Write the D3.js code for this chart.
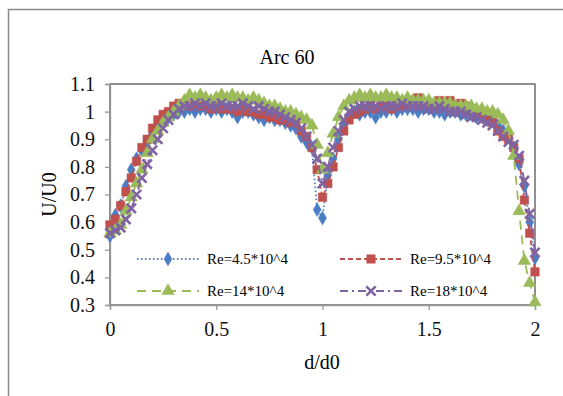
<!DOCTYPE html>
<html>
<head>
<meta charset="utf-8">
<script src="https://cdn.jsdelivr.net/npm/d3@7"></script>
<style>
  html, body { margin: 0; padding: 0; background: #fff; }
  #chart { width: 563px; height: 396px; }
  #chart svg, #chart svg text { font-family: "Liberation Serif", "Times New Roman", serif; }
</style>
</head>
<body>
<div id="chart"></div>
<script>
const TITLE = "Arc 60";
const X_LABEL = "d/d0";
const Y_LABEL = "U/U0";

const xTicks = [0, 0.5, 1, 1.5, 2];
const yTicks = [0.3, 0.4, 0.5, 0.6, 0.7, 0.8, 0.9, 1, 1.1];

// measurement positions d/d0
const dPos = [
  0, 0.025, 0.05, 0.075, 0.1, 0.125, 0.15, 0.175, 0.2, 0.225,
  0.25, 0.275, 0.3, 0.325, 0.35, 0.375, 0.4, 0.425, 0.45, 0.475,
  0.5, 0.525, 0.55, 0.575, 0.6, 0.625, 0.65, 0.675, 0.7, 0.725,
  0.75, 0.775, 0.8, 0.825, 0.85, 0.875, 0.9, 0.925, 0.95, 0.975,
  1, 1.025, 1.05, 1.075, 1.1, 1.125, 1.15, 1.175, 1.2, 1.225,
  1.25, 1.275, 1.3, 1.325, 1.35, 1.375, 1.4, 1.425, 1.45, 1.475,
  1.5, 1.525, 1.55, 1.575, 1.6, 1.625, 1.65, 1.675, 1.7, 1.725,
  1.75, 1.775, 1.8, 1.825, 1.85, 1.875, 1.9, 1.925, 1.95, 1.975, 2
];

const re45 = [
  0.55, 0.625, 0.66, 0.73, 0.79, 0.83, 0.86, 0.89, 0.92, 0.95,
  0.97, 0.98, 0.99, 1.0, 1.0, 1.01, 1.0, 1.01, 1.01, 1.0,
  1.01, 1.0, 1.01, 1.0, 0.98, 1.0, 1.0, 0.99, 0.98, 0.97,
  0.98, 0.97, 0.97, 0.96, 0.95, 0.94, 0.91, 0.89, 0.87, 0.645,
  0.615, 0.77, 0.83, 0.9, 0.95, 0.98, 1.0, 0.99, 1.0, 1.0,
  0.98, 1.0, 1.0, 1.01, 1.0, 1.01, 1.01, 1.01, 1.0, 1.01,
  1.01, 1.0, 1.0, 0.99, 1.0, 1.0, 0.99, 0.99, 0.99, 0.98,
  0.98, 0.97, 0.97, 0.95, 0.93, 0.91, 0.87, 0.81, 0.73, 0.6, 0.47
];

const re95 = [
  0.59, 0.61, 0.66, 0.71, 0.76, 0.82, 0.87, 0.9, 0.94, 0.97,
  0.99, 1.0, 1.02, 1.03, 1.03, 1.02, 1.03, 1.02, 1.02, 1.01,
  1.02, 1.01, 1.01, 1.01, 1.0, 1.01, 1.0, 1.0, 0.99, 0.99,
  0.98, 0.98, 0.97, 0.97, 0.96, 0.96, 0.93, 0.91, 0.87, 0.79,
  0.69, 0.74, 0.8, 0.87, 0.93, 0.97, 0.99, 1.0, 1.01, 1.02,
  1.01, 1.02, 1.02, 1.01, 1.02, 1.02, 1.03, 1.04, 1.05, 1.03,
  1.03, 1.02, 1.04, 1.03, 1.04, 1.02, 1.03, 1.02, 1.01, 1.0,
  0.99, 0.97, 0.96, 0.93, 0.91, 0.9, 0.87, 0.83, 0.68, 0.56, 0.42
];

const re14 = [
  0.56, 0.57, 0.59, 0.64, 0.69, 0.74, 0.79, 0.85, 0.9, 0.93,
  0.96, 0.98, 1.0, 1.02, 1.04, 1.06, 1.05, 1.06, 1.05, 1.04,
  1.05, 1.06, 1.05, 1.06, 1.05, 1.05, 1.04, 1.05, 1.04, 1.03,
  1.02, 1.02, 1.01, 1.0, 1.0, 0.99, 0.98, 0.97, 0.95, 0.88,
  0.79, 0.85, 0.92, 0.98, 1.02, 1.04, 1.05, 1.06, 1.05, 1.06,
  1.05, 1.05, 1.06, 1.05, 1.05, 1.04, 1.05, 1.04, 1.04, 1.04,
  1.04, 1.03, 1.03, 1.03, 1.03, 1.02, 1.02, 1.02, 1.02, 1.01,
  1.01, 1.0, 1.0, 0.99, 0.97, 0.93, 0.84, 0.64, 0.46, 0.38, 0.31
];

const re18 = [
  0.56, 0.57, 0.58, 0.61, 0.65, 0.7, 0.76, 0.81, 0.86, 0.9,
  0.94, 0.97, 0.99, 1.01, 1.02, 1.02, 1.03, 1.02, 1.03, 1.02,
  1.02, 1.03, 1.02, 1.02, 1.02, 1.03, 1.02, 1.01, 1.02, 1.01,
  1.0, 1.0, 0.99, 0.98, 0.97, 0.96, 0.94, 0.91, 0.88, 0.83,
  0.74, 0.8, 0.87, 0.93, 0.97, 1.0, 1.01, 1.02, 1.02, 1.02,
  1.02, 1.01, 1.02, 1.02, 1.02, 1.03, 1.02, 1.02, 1.02, 1.02,
  1.01, 1.01, 1.02, 1.01, 1.0, 1.0, 1.0, 0.99, 0.98, 0.98,
  0.97, 0.96, 0.95, 0.93, 0.91, 0.89, 0.88, 0.84, 0.75, 0.63, 0.49
];

const seriesNames = ["Re=4.5*10^4", "Re=9.5*10^4", "Re=14*10^4", "Re=18*10^4"];
const seriesValues = [re45, re95, re14, re18];

const WIDTH = 563;
const HEIGHT = 396;

const styles = [
  { color: "#4a7ec4", dash: "1.5,2.5", symbol: d3.symbolDiamond, size: 55 },
  { color: "#c0504d", dash: "5,3", symbol: d3.symbolSquare, size: 72 },
  { color: "#9bbb59", dash: "9,6", symbol: d3.symbolTriangle, size: 68 },
  { color: "#8064a2", dash: "8,4,2,4", symbol: d3.symbolX, size: 58 }
];

const margin = { left: 110, right: 28, top: 84, bottom: 91 };

const x = d3.scaleLinear().domain([0, 2]).range([margin.left, WIDTH - margin.right]);
const y = d3.scaleLinear().domain([0.3, 1.1]).range([HEIGHT - margin.bottom, margin.top]);

const svg = d3.select("#chart").append("svg")
  .attr("width", WIDTH)
  .attr("height", HEIGHT);

// outer chart frame
svg.append("rect")
  .attr("x", 8.5).attr("y", 9.5)
  .attr("width", 580).attr("height", 420)
  .attr("fill", "#fff")
  .attr("stroke", "#8a8a8a")
  .attr("stroke-width", 1.5);

svg.append("text")
  .attr("x", 287).attr("y", 64)
  .attr("text-anchor", "middle")
  .style("font-size", "20px")
  .text(TITLE);

// plot area frame
svg.append("rect")
  .attr("x", x(0)).attr("y", y(1.1))
  .attr("width", x(2) - x(0)).attr("height", y(0.3) - y(1.1))
  .attr("fill", "none")
  .attr("stroke", "#555")
  .attr("stroke-width", 1.3);

const yAxis = svg.append("g")
  .attr("transform", `translate(${x(0)},0)`)
  .call(d3.axisLeft(y).tickValues(yTicks).tickSize(5).tickPadding(10).tickFormat(d3.format("")));

const xAxis = svg.append("g")
  .attr("transform", `translate(0,${y(0.3)})`)
  .call(d3.axisBottom(x).tickValues(xTicks).tickSize(5).tickPadding(12).tickFormat(d3.format("")));

[xAxis, yAxis].forEach(ax => {
  ax.attr("font-family", null).attr("font-size", null);
  ax.select(".domain").attr("stroke", "#999").attr("stroke-width", 1.3);
  ax.selectAll(".tick line").attr("stroke", "#999").attr("stroke-width", 1.3);
  ax.selectAll(".tick text")
    .attr("fill", "#111")
    .style("font-size", "20px");
});

svg.append("text")
  .attr("x", 322).attr("y", 369)
  .attr("text-anchor", "middle")
  .style("font-size", "20px")
  .text(X_LABEL);

svg.append("text")
  .attr("transform", `translate(56,${(y(0.3) + y(1.1)) / 2}) rotate(-90)`)
  .attr("text-anchor", "middle")
  .style("font-size", "20px")
  .text(Y_LABEL);

const line = d3.line()
  .x((d, i) => x(dPos[i]))
  .y(d => y(d));

const plot = svg.append("g");

seriesValues.forEach((vals, k) => {
  const st = styles[k];
  const g = plot.append("g");
  g.append("path")
    .datum(vals)
    .attr("fill", "none")
    .attr("stroke", st.color)
    .attr("stroke-width", 1.8)
    .attr("stroke-dasharray", st.dash)
    .attr("d", line);

  const sym = d3.symbol().type(st.symbol).size(st.size);
  g.selectAll("path.pt")
    .data(vals)
    .join("path")
    .attr("class", "pt")
    .attr("transform", (d, i) => `translate(${x(dPos[i])},${y(d)})`)
    .attr("d", sym)
    .attr("fill", st.symbol === d3.symbolX ? "none" : st.color)
    .attr("stroke", st.color)
    .attr("stroke-width", st.symbol === d3.symbolX ? 2.6 : 0.5);
});

// legend, two columns by two rows
const legendPos = [
  { lx: 137, ly: 259 },
  { lx: 340, ly: 259 },
  { lx: 137, ly: 291 },
  { lx: 340, ly: 291 }
];

const legend = svg.append("g");
seriesNames.forEach((name, k) => {
  const st = styles[k];
  const p = legendPos[k];
  const item = legend.append("g").attr("transform", `translate(${p.lx},${p.ly})`);
  item.append("line")
    .attr("x1", 0).attr("x2", 62)
    .attr("stroke", st.color)
    .attr("stroke-width", 1.8)
    .attr("stroke-dasharray", st.dash);
  item.append("path")
    .attr("transform", "translate(31,0)")
    .attr("d", d3.symbol().type(st.symbol).size(st.size))
    .attr("fill", st.symbol === d3.symbolX ? "none" : st.color)
    .attr("stroke", st.color)
    .attr("stroke-width", st.symbol === d3.symbolX ? 2.6 : 0.5);
  item.append("text")
    .attr("x", 70).attr("y", 5)
    .style("font-size", "15px")
    .text(name);
});
</script>
</body>
</html>
